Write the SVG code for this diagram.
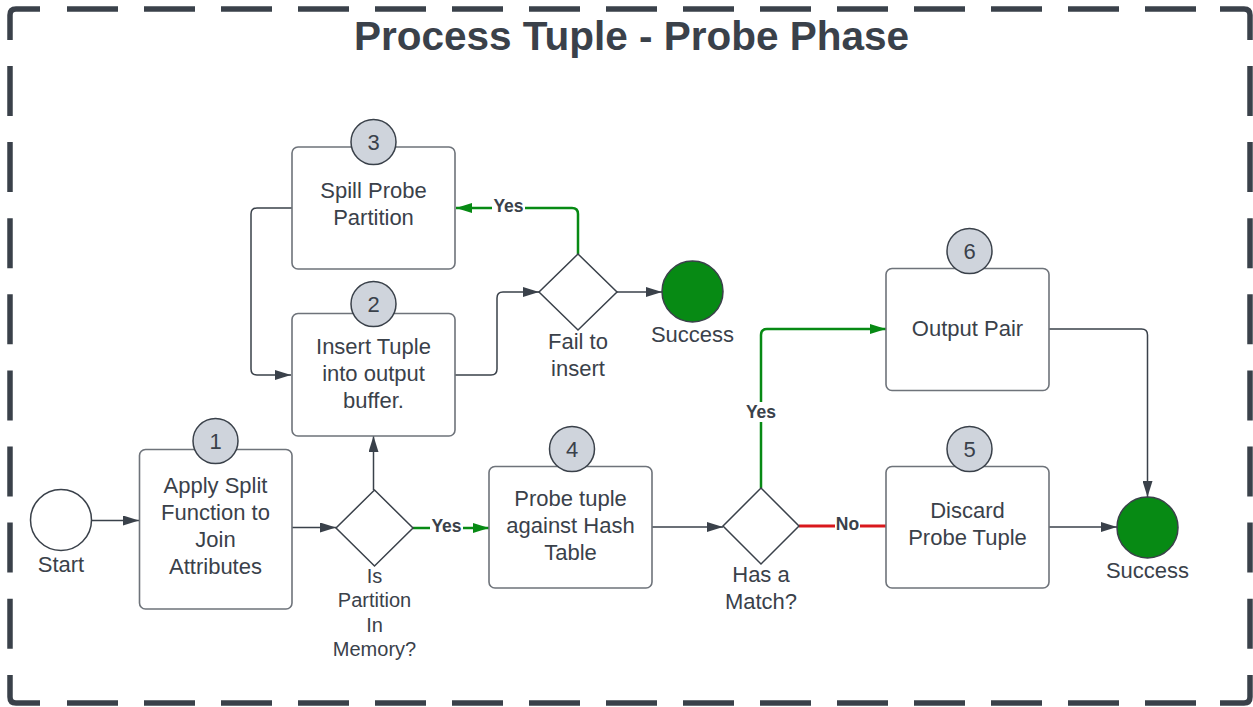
<svg xmlns="http://www.w3.org/2000/svg" width="1253" height="707" viewBox="0 0 1253 707">
  <style>
    .frame { fill: none; stroke: #3a414a; stroke-width: 5.5; stroke-linecap: butt; }
    .box { fill: #ffffff; stroke: #6e737a; stroke-width: 1.6; }
    .badge { fill: #cfd4dc; stroke: #3a414a; stroke-width: 1.5; }
    .badge-text { font-family: "Liberation Sans", Arial, sans-serif; font-size: 22px; fill: #3a414a; text-anchor: middle; }
    .label { font-family: "Liberation Sans", Arial, sans-serif; font-size: 22px; fill: #3a414a; text-anchor: middle; }
    .small-label { font-family: "Liberation Sans", Arial, sans-serif; font-size: 20px; fill: #3a414a; text-anchor: middle; }
    .title { font-family: "Liberation Sans", Arial, sans-serif; font-size: 40.5px; font-weight: bold; fill: #3a414a; text-anchor: middle; }
    .diamond { fill: #ffffff; stroke: #3a414a; stroke-width: 1.5; }
    .terminal { fill: #078a14; stroke: #3a414a; stroke-width: 1.5; }
    .start { fill: #ffffff; stroke: #3a414a; stroke-width: 1.5; }
    .edge { fill: none; stroke: #3a414a; stroke-width: 1.5; }
    .edge-yes { fill: none; stroke: #078a14; stroke-width: 2.5; }
    .edge-no { fill: none; stroke: #d9181c; stroke-width: 2.8; }
    .edge-text { font-family: "Liberation Sans", Arial, sans-serif; font-size: 17.5px; font-weight: bold; fill: #3a414a; text-anchor: middle; }
    .edge-bg { fill: #ffffff; }
  </style>
  <defs>
    <marker id="arrow-gray" viewBox="0 0 16 10" refX="16" refY="5" markerWidth="16" markerHeight="10" markerUnits="userSpaceOnUse" orient="auto">
      <path d="M0,0 L16,5 L0,10 Z" fill="#3a414a"/>
    </marker>
    <marker id="arrow-green" viewBox="0 0 16 10" refX="16" refY="5" markerWidth="16" markerHeight="10" markerUnits="userSpaceOnUse" orient="auto">
      <path d="M0,0 L16,5 L0,10 Z" fill="#078a14"/>
    </marker>
  </defs>

  <rect width="1253" height="707" fill="#ffffff"/>

  <!-- dashed frame: four corner pieces plus dashed sides -->
  <g id="frame">
    <path class="frame" d="M10,40 V15 Q10,9 16,9 H40"/>
    <path class="frame" d="M1220,9 H1244 Q1250,9 1250,15 V40"/>
    <path class="frame" d="M10,675 V697 Q10,703 16,703 H40"/>
    <path class="frame" d="M1220,703 H1244 Q1250,703 1250,697 V675"/>
    <line class="frame" x1="67" y1="9" x2="1196" y2="9" stroke-dasharray="51 26"/>
    <line class="frame" x1="67" y1="703" x2="1196" y2="703" stroke-dasharray="51 26"/>
    <line class="frame" x1="10" y1="66" x2="10" y2="649" stroke-dasharray="50 26.1"/>
    <line class="frame" x1="1250" y1="66" x2="1250" y2="649" stroke-dasharray="50 26.1"/>
  </g>

  <text class="title" x="631.5" y="50">Process Tuple - Probe Phase</text>

  <!-- connectors -->
  <g id="connectors">
    <path class="edge" d="M92,520.5 H139" marker-end="url(#arrow-gray)"/>
    <path class="edge" d="M292,527.5 H336" marker-end="url(#arrow-gray)"/>
    <path class="edge" d="M373.5,490 V436" marker-end="url(#arrow-gray)"/>
    <path class="edge" d="M455,375 H491 Q497,375 497,369 V298 Q497,292 503,292 H539" marker-end="url(#arrow-gray)"/>
    <path class="edge" d="M292,208 H257 Q251,208 251,214 V369 Q251,375 257,375 H291" marker-end="url(#arrow-gray)"/>
    <path class="edge" d="M617,292 H662" marker-end="url(#arrow-gray)"/>
    <path class="edge" d="M652,527 H723" marker-end="url(#arrow-gray)"/>
    <path class="edge" d="M1049,527 H1117" marker-end="url(#arrow-gray)"/>
    <path class="edge" d="M1049,329 H1141.5 Q1147.5,329 1147.5,335 V497" marker-end="url(#arrow-gray)"/>

    <path class="edge-yes" d="M413,528 H489" marker-end="url(#arrow-green)"/>
    <rect class="edge-bg" x="430" y="516" width="33" height="20"/>
    <text class="edge-text" x="446.5" y="532">Yes</text>

    <path class="edge-yes" d="M578,254 V214 Q578,208 572,208 H456" marker-end="url(#arrow-green)"/>
    <rect class="edge-bg" x="492" y="196" width="33" height="20"/>
    <text class="edge-text" x="508.5" y="212">Yes</text>

    <path class="edge-yes" d="M761,488 V335 Q761,329 767,329 H886" marker-end="url(#arrow-green)"/>
    <rect class="edge-bg" x="744" y="402" width="34" height="20"/>
    <text class="edge-text" x="761" y="418">Yes</text>

    <path class="edge-no" d="M799,526 H886"/>
    <rect class="edge-bg" x="835" y="515" width="25" height="20"/>
    <text class="edge-text" x="847.5" y="530">No</text>
  </g>

  <!-- start -->
  <g id="start">
    <circle class="start" cx="61" cy="520" r="30.5"/>
    <text class="label" x="61" y="572">Start</text>
  </g>

  <!-- step 1 -->
  <g id="node-1">
    <rect class="box" x="139.5" y="449.5" width="152.5" height="159.5" rx="6"/>
    <circle class="badge" cx="215.5" cy="441" r="22.5"/>
    <text class="badge-text" x="215.5" y="449">1</text>
    <text class="label" x="215.5" y="493">Apply Split</text>
    <text class="label" x="215.5" y="520">Function to</text>
    <text class="label" x="215.5" y="547">Join</text>
    <text class="label" x="215.5" y="574">Attributes</text>
  </g>

  <!-- step 2 -->
  <g id="node-2">
    <rect class="box" x="292" y="313.5" width="163" height="122.5" rx="6"/>
    <circle class="badge" cx="373.5" cy="304" r="22.5"/>
    <text class="badge-text" x="373.5" y="312">2</text>
    <text class="label" x="373.5" y="354">Insert Tuple</text>
    <text class="label" x="373.5" y="381">into output</text>
    <text class="label" x="373.5" y="408">buffer.</text>
  </g>

  <!-- step 3 -->
  <g id="node-3">
    <rect class="box" x="292" y="147" width="163" height="122" rx="6"/>
    <circle class="badge" cx="373.5" cy="142" r="22.5"/>
    <text class="badge-text" x="373.5" y="150">3</text>
    <text class="label" x="373.5" y="198">Spill Probe</text>
    <text class="label" x="373.5" y="225">Partition</text>
  </g>

  <!-- step 4 -->
  <g id="node-4">
    <rect class="box" x="489" y="466.5" width="163" height="121.5" rx="6"/>
    <circle class="badge" cx="572" cy="449" r="22.5"/>
    <text class="badge-text" x="572" y="457">4</text>
    <text class="label" x="570.5" y="506">Probe tuple</text>
    <text class="label" x="570.5" y="533">against Hash</text>
    <text class="label" x="570.5" y="560">Table</text>
  </g>

  <!-- step 5 -->
  <g id="node-5">
    <rect class="box" x="886" y="466.5" width="163" height="121.5" rx="6"/>
    <circle class="badge" cx="969.5" cy="449" r="22.5"/>
    <text class="badge-text" x="969.5" y="457">5</text>
    <text class="label" x="967.5" y="518">Discard</text>
    <text class="label" x="967.5" y="545">Probe Tuple</text>
  </g>

  <!-- step 6 -->
  <g id="node-6">
    <rect class="box" x="886" y="268.5" width="163" height="122" rx="6"/>
    <circle class="badge" cx="969.5" cy="251" r="22.5"/>
    <text class="badge-text" x="969.5" y="259">6</text>
    <text class="label" x="967.5" y="336">Output Pair</text>
  </g>

  <!-- decisions -->
  <g id="decision-partition">
    <path class="diamond" d="M374.5,490 L413,528 L374.5,566 L336,528 Z"/>
    <text class="small-label" x="374.5" y="583">Is</text>
    <text class="small-label" x="374.5" y="607">Partition</text>
    <text class="small-label" x="374.5" y="632">In</text>
    <text class="small-label" x="374.5" y="656">Memory?</text>
  </g>

  <g id="decision-insert">
    <path class="diamond" d="M578,254 L617,292 L578,330 L539,292 Z"/>
    <text class="label" x="578" y="349">Fail to</text>
    <text class="label" x="578" y="376">insert</text>
  </g>

  <g id="decision-match">
    <path class="diamond" d="M761,488 L799,526 L761,564 L723,526 Z"/>
    <text class="label" x="761" y="582">Has a</text>
    <text class="label" x="761" y="609">Match?</text>
  </g>

  <!-- end states -->
  <g id="success-insert">
    <circle class="terminal" cx="692.5" cy="291.5" r="30.5"/>
    <text class="label" x="692.5" y="342">Success</text>
  </g>

  <g id="success-probe">
    <circle class="terminal" cx="1147.5" cy="527.5" r="30.5"/>
    <text class="label" x="1147.5" y="578">Success</text>
  </g>
</svg>
